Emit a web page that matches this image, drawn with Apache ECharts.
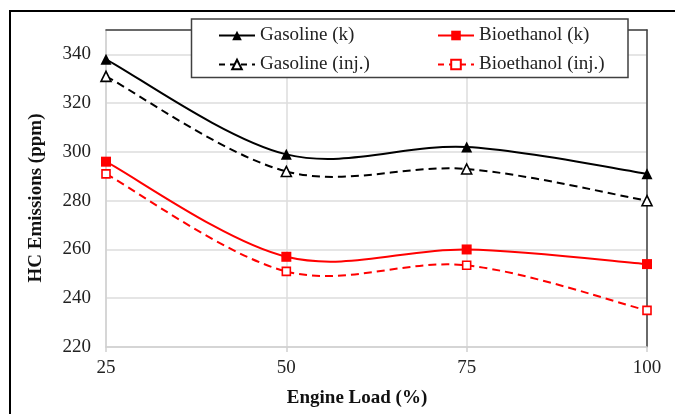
<!DOCTYPE html>
<html>
<head>
<meta charset="utf-8">
<script src="https://cdn.jsdelivr.net/npm/echarts@6/dist/echarts.min.js"></script>
<style>html,body{margin:0;padding:0;background:#fff}#c{width:675px;height:414px}</style>
</head>
<body>
<div id="c"></div>
<script>
const engineLoad = [25, 50, 75, 100];
const gasolineK = [338, 299, 302, 291];
const gasolineInj = [331, 292, 293, 280];
const bioethanolK = [296, 257, 260, 254];
const bioethanolInj = [291, 251, 253.5, 235];
const yTicks = [220, 240, 260, 280, 300, 320, 340];
const seriesNames = ['Gasoline (k)', 'Bioethanol (k)', 'Gasoline (inj.)', 'Bioethanol (inj.)'];

const FONT = '"Liberation Serif", "DejaVu Serif", serif';
const FS = 19;
const pairs = v => engineLoad.map((x, i) => [x, v[i]]);

const styles = [
  { values: gasolineK, color: '#000000', symbol: 'triangle', size: 11, filled: true, dash: null },
  { values: bioethanolK, color: '#ff0000', symbol: 'rect', size: 10, filled: true, dash: null },
  { values: gasolineInj, color: '#000000', symbol: 'triangle', size: 10, filled: false, dash: [8, 5] },
  { values: bioethanolInj, color: '#ff0000', symbol: 'rect', size: 8, filled: false, dash: [8, 5] }
];

// Smooth curve (Catmull-Rom style, like a spreadsheet "smoothed line"), computed in pixel space via api.coord
function curveSeries(st) {
  return {
    type: 'custom',
    silent: true,
    z: 3,
    data: [[engineLoad[0], st.values[0]]],
    renderItem: function (params, api) {
      const P = engineLoad.map((x, i) => api.coord([x, st.values[i]]));
      const children = [];
      for (let i = 0; i < P.length - 1; i++) {
        const p0 = P[Math.max(i - 1, 0)], p1 = P[i], p2 = P[i + 1], p3 = P[Math.min(i + 2, P.length - 1)];
        children.push({
          type: 'bezierCurve',
          shape: {
            x1: p1[0], y1: p1[1], x2: p2[0], y2: p2[1],
            cpx1: p1[0] + (p2[0] - p0[0]) / 6, cpy1: p1[1] + (p2[1] - p0[1]) / 6,
            cpx2: p2[0] - (p3[0] - p1[0]) / 6, cpy2: p2[1] - (p3[1] - p1[1]) / 6
          },
          style: { stroke: st.color, lineWidth: 2, fill: null, lineDash: st.dash || null }
        });
      }
      return { type: 'group', children: children };
    }
  };
}

function markerSeries(name, st) {
  return {
    name: name,
    type: 'line',
    data: pairs(st.values),
    symbol: st.symbol,
    symbolSize: st.size,
    showSymbol: true,
    z: 5,
    lineStyle: { width: 0, opacity: 0 },
    itemStyle: { color: st.filled ? st.color : '#ffffff', borderColor: st.color, borderWidth: st.filled ? 0 : 1.6, opacity: 1 },
    emphasis: { disabled: true }
  };
}

function legendFor(i, left, top) {
  const st = styles[i];
  return {
    data: [seriesNames[i]],
    left: left, top: top,
    orient: 'horizontal',
    padding: 0,
    itemWidth: 36,
    itemHeight: 12,
    selectedMode: false,
    z: 60,
    lineStyle: { color: st.color, width: 2, type: st.dash ? [6, 5] : 'solid', opacity: 1 },
    textStyle: { fontFamily: FONT, fontSize: FS, color: '#222' }
  };
}

const chart = echarts.init(document.getElementById('c'), null, { renderer: 'canvas' });
chart.setOption({
  animation: false,
  backgroundColor: '#ffffff',
  grid: { left: 106, right: 28, top: 30, bottom: 67 },
  xAxis: [{
    type: 'value', min: 25, max: 100, interval: 25,
    axisLine: { show: true, lineStyle: { color: '#d0d0d0', width: 1.5 } },
    axisTick: { show: true, length: 5, lineStyle: { color: '#d0d0d0', width: 1.5 } },
    splitLine: { show: true, lineStyle: { color: '#dcdcdc', width: 1.5 } },
    axisLabel: { fontFamily: FONT, fontSize: FS, color: '#222', margin: 12 }
  }, {
    type: 'value', position: 'top', min: 25, max: 100, interval: 25,
    axisLine: { show: true, lineStyle: { color: '#404040', width: 1.5 } },
    axisTick: { show: false }, axisLabel: { show: false }, splitLine: { show: false }
  }],
  yAxis: [{
    type: 'value', min: 220, max: 350, interval: 20,
    axisLine: { show: true, lineStyle: { color: '#d0d0d0', width: 1.5 } },
    axisTick: { show: false },
    splitLine: { show: true, lineStyle: { color: '#dcdcdc', width: 1.5 } },
    axisLabel: {
      fontFamily: FONT, fontSize: FS, color: '#222', margin: 15,
      formatter: v => (yTicks.indexOf(v) >= 0 ? String(v) : '')
    }
  }, {
    type: 'value', position: 'right', min: 220, max: 350, interval: 20,
    axisLine: { show: true, lineStyle: { color: '#404040', width: 1.5 } },
    axisTick: { show: false }, axisLabel: { show: false }, splitLine: { show: false }
  }],
  legend: [
    legendFor(0, 218, 26),
    legendFor(1, 437, 26),
    legendFor(2, 218, 55),
    legendFor(3, 437, 55)
  ],
  graphic: [
    { type: 'rect', z: 100, silent: true, shape: { x: 10, y: 11, width: 700, height: 420 },
      style: { fill: 'none', stroke: '#000', lineWidth: 2 } },
    { type: 'rect', z: 50, silent: true, shape: { x: 191.5, y: 19, width: 436.5, height: 58.5 },
      style: { fill: '#fff', stroke: '#404040', lineWidth: 1.5 } },
    { type: 'text', z: 50, silent: true, x: 36, y: 198, rotation: Math.PI / 2,
      style: { text: 'HC Emissions (ppm)', font: 'bold ' + FS + 'px ' + FONT, fill: '#111', align: 'center', verticalAlign: 'middle' } },
    { type: 'text', z: 50, silent: true, x: 357, y: 398,
      style: { text: 'Engine Load (%)', font: 'bold ' + FS + 'px ' + FONT, fill: '#111', align: 'center', verticalAlign: 'middle' } }
  ],
  series: [
    curveSeries(styles[0]), curveSeries(styles[1]), curveSeries(styles[2]), curveSeries(styles[3]),
    markerSeries(seriesNames[0], styles[0]),
    markerSeries(seriesNames[1], styles[1]),
    markerSeries(seriesNames[2], styles[2]),
    markerSeries(seriesNames[3], styles[3])
  ]
});
</script>
</body>
</html>
